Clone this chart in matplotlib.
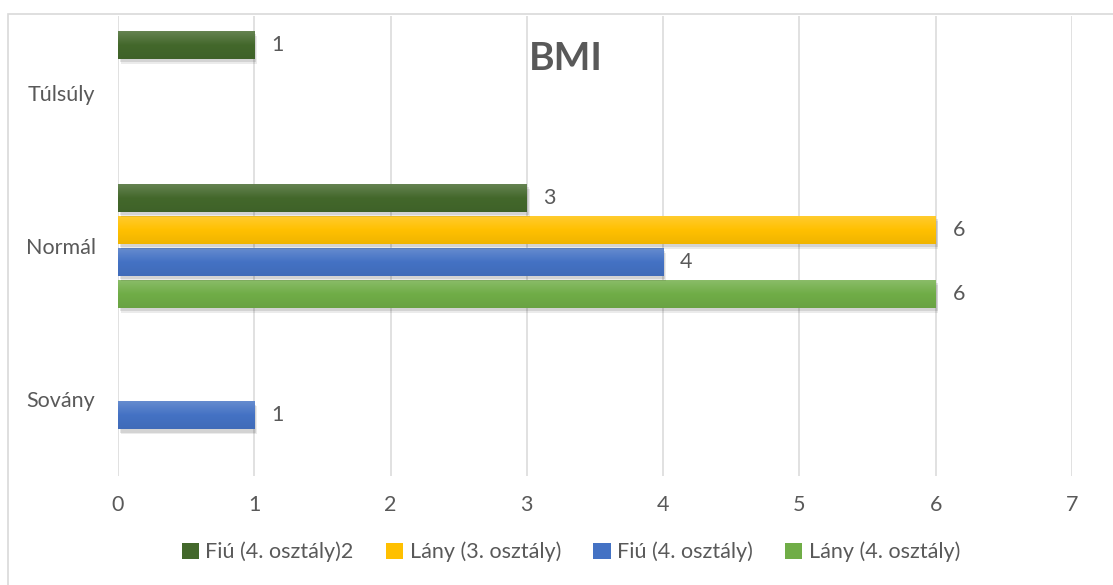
import numpy as np
import matplotlib
matplotlib.use('Agg')
import matplotlib.pyplot as plt
import matplotlib.patheffects as pe
from matplotlib.patches import Patch, Rectangle
from matplotlib.colors import to_rgb

plt.rcParams['font.family'] = ['Lato', 'DejaVu Sans']

# BMI kategóriák (alulról felfelé) és sorozatok
categories = ['Sovány', 'Normál', 'Túlsúly']
series_names = ['Lány (4. osztály)', 'Fiú (4. osztály)', 'Lány (3. osztály)', 'Fiú (4. osztály)2']
lany_4 = [np.nan, 6, np.nan]
fiu_4 = [1, 4, np.nan]
lany_3 = [np.nan, 6, np.nan]
fiu_4_2 = [np.nan, 3, 1]
series_values = [lany_4, fiu_4, lany_3, fiu_4_2]
series_colors = ['#70AD47', '#4472C4', '#FFC000', '#43682B']

TEXT = '#595959'
GRID = '#d9d9d9'


def shade(color, f):
    c = np.array(to_rgb(color))
    if f >= 0:
        return c + (1 - c) * f
    return c * (1 + f)


def gradient_fill(ax, patch, color):
    # függőleges színátmenet a sáv területén belül (fent világosabb)
    x0, y0 = patch.get_x(), patch.get_y()
    w, h = patch.get_width(), patch.get_height()
    n = 64
    t = np.linspace(0, 1, n)[:, None]
    top, mid, bot = shade(color, 0.18), shade(color, 0.0), shade(color, -0.06)
    rows = np.where(t < 0.5, top + (mid - top) * (t / 0.5), mid + (bot - mid) * ((t - 0.5) / 0.5))
    img = rows[:, None, :].repeat(2, axis=1)
    im = ax.imshow(img, extent=(x0, x0 + w, y0, y0 + h), aspect='auto',
                   interpolation='bilinear', zorder=3, origin='upper')
    im.set_clip_path(patch)


fig = plt.figure(figsize=(11.13, 5.85), dpi=100)
ax = fig.add_axes([118 / 1113, 109 / 585, 954 / 1113, 460 / 585])

y = np.arange(len(categories))
slot = 0.2087
bar_h = 0.1826
shadow = [pe.SimplePatchShadow(offset=(1.5, -2.5), shadow_rgbFace='#000000', alpha=0.10),
          pe.SimplePatchShadow(offset=(2.0, -3.5), shadow_rgbFace='#000000', alpha=0.08),
          pe.Normal()]

handles = []
for i, (name, vals, col) in enumerate(zip(series_names, series_values, series_colors)):
    pos = y + (i - 1.5) * slot
    bars = ax.barh(pos, vals, height=bar_h, color=col, zorder=3, label=name)
    for b, v in zip(bars, vals):
        if np.isnan(v):
            continue
        b.set_path_effects(shadow)
        gradient_fill(ax, b, col)
        ax.annotate(f'{int(v)}', xy=(v, b.get_y() + b.get_height() / 2),
                    xytext=(12, 0), textcoords='offset points',
                    ha='left', va='center', fontsize=15.5, color=TEXT)
    handles.append(Patch(facecolor=col, label=name))

ax.set_xlim(0, 7)
ax.set_ylim(-0.5, 2.5)
ax.set_xticks(range(0, 8))
ax.set_yticks(y)
ax.set_yticklabels(categories)
for lbl in ax.get_yticklabels():
    lbl.set_horizontalalignment('center')
ax.tick_params(axis='y', length=0, pad=41, labelsize=15.5, labelcolor=TEXT)
ax.tick_params(axis='x', length=0, pad=14, labelsize=15.5, labelcolor=TEXT)
ax.grid(axis='x', color=GRID, linewidth=1.1, zorder=0)
ax.set_axisbelow(True)
for s in ax.spines.values():
    s.set_visible(False)

ax.text(566 / 1113, 527 / 585, 'BMI', transform=fig.transFigure, ha='center', va='center',
        fontsize=28, fontweight='bold', color=TEXT)

fig.legend(handles=handles[::-1], loc='center', bbox_to_anchor=(571 / 1113, 33 / 585),
           ncol=4, frameon=False, fontsize=15.5, labelcolor=TEXT,
           handlelength=0.8, handleheight=0.8, handletextpad=0.3, columnspacing=1.5)

# diagramterület kerete
fig.add_artist(Rectangle((8 / 1113, -0.1), 1.2, (585 - 14) / 585 + 0.1, transform=fig.transFigure,
                         fill=False, edgecolor=GRID, linewidth=1.2))

fig.savefig('out.png', dpi=100)
